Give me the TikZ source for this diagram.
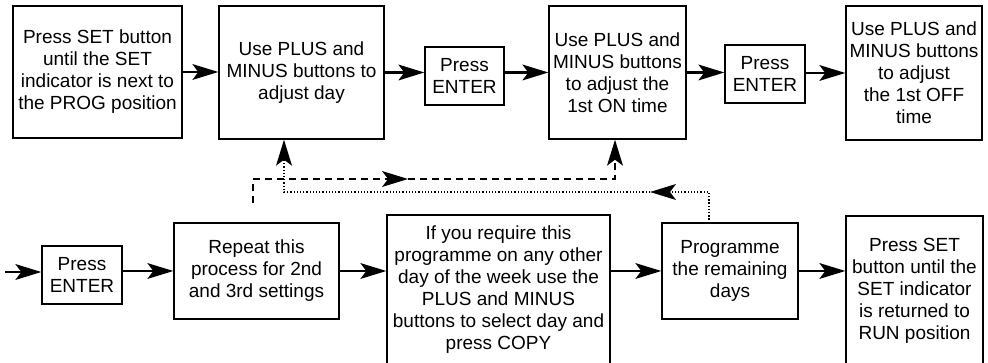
\documentclass[tikz,border=0pt]{standalone}
\usepackage{fontspec}
\setmainfont{Liberation Sans}
\usetikzlibrary{arrows.meta,positioning,calc}

\begin{document}
\begin{tikzpicture}[x=1pt,y=-1pt,font=\fontsize{19}{22}\selectfont,
 tip/.style={-{Stealth[length=26pt,width=16pt,inset=6pt,line width=0pt]}},
 s/.style={draw,line width=1.4pt,align=center,inner sep=0pt},
 d/.style={tip,line width=2.4pt},
 dsh/.style={tip,line width=2.4pt,dash pattern=on 7pt off 5pt},
 dtt/.style={tip,line width=1.3pt,dash pattern=on 1.3pt off 1.9pt}]
\useasboundingbox (0,0) rectangle (988,363);
% top row
\node[s,minimum width=169pt,minimum height=132pt] (set) at (97.5,72) {Press SET button\\until the SET\\indicator is next to\\the PROG position};
\node[s,minimum width=165pt,minimum height=133pt] (day) at (301.5,72.5) {Use PLUS and\\MINUS buttons to\\adjust day};
\node[s,minimum width=79pt,minimum height=58pt] (ent1) at (464.5,76) {Press\\ENTER};
\node[s,minimum width=137pt,minimum height=133pt] (on) at (617.5,72.5) {Use PLUS and\\MINUS buttons\\to adjust the\\1st ON time};
\node[s,minimum width=80pt,minimum height=58pt] (ent2) at (765,74) {Press\\ENTER};
\node[s,minimum width=136pt,minimum height=134pt] (off) at (914,73) {Use PLUS and\\MINUS buttons\\to adjust\\the 1st OFF\\time};
% bottom row
\node[s,minimum width=80pt,minimum height=58pt] (ent3) at (82,275) {Press\\ENTER};
\node[s,minimum width=165pt,minimum height=96pt] (rep) at (256.5,271) {Repeat this\\process for 2nd\\and 3rd settings};
\node[s,minimum width=223pt,minimum height=150pt] (copy) at (498.5,290) {If you require this\\programme on any other\\day of the week use the\\PLUS and MINUS\\buttons to select day and\\press COPY};
\node[s,minimum width=136pt,minimum height=96pt] (rem) at (730,271) {Programme\\the remaining\\days};
\node[s,minimum width=137pt,minimum height=149pt] (fin) at (914.5,290.5) {Press SET\\button until the\\SET indicator\\is returned to\\RUN position};
% free ends
\coordinate (in) at (5,272);
\coordinate (rpt) at (253,203);
\coordinate (dm) at (408,179);
\coordinate (dk) at (615,179);
\coordinate (dt) at (709,223);
\coordinate (tm) at (650,192);
\coordinate (tk) at (284,192);
% flow
\draw[d] (set) -- (set -| day.west);
\draw[d] (day) -- (day -| ent1.west);
\draw[d] (ent1.east |- on) -- (on);
\draw[d] (on) -- (on -| ent2.west);
\draw[d] (ent2.east |- off) -- (off);
\draw[d] (in) -- (in -| ent3.west);
\draw[d] (ent3.east |- rep) -- (rep);
\draw[d] (rep) -- (rep -| copy.west);
\draw[d] (copy.east |- rem) -- (rem);
\draw[d] (rem) -- (rem -| fin.west);
% loops back
\draw[dsh] (rpt) |- (dm);
\draw[dsh] (dm) -- (dk) -- (dk |- on.south);
\draw[dtt] (dt) |- (tm);
\draw[dtt] (tm) -- (tk) -- (tk |- day.south);
\end{tikzpicture}
\end{document}
